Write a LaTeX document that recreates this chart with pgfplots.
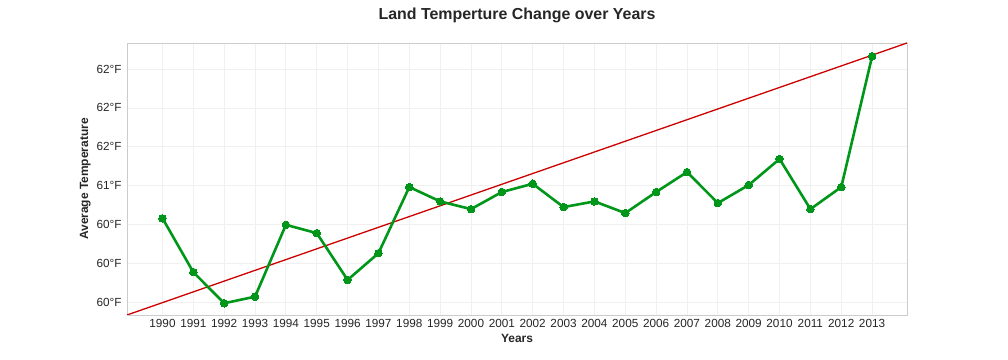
\documentclass[border=0pt]{standalone}
\usepackage{pgfplots}
\pgfplotsset{compat=1.18}
\usepackage{fontspec}
\setmainfont{Liberation Sans}
\definecolor{lgreen}{RGB}{0,150,25}
\definecolor{tred}{RGB}{204,0,0}
\definecolor{gridc}{RGB}{240,240,240}
\definecolor{framec}{RGB}{204,204,204}
\definecolor{txt}{RGB}{38,38,38}
\pgfplotstableread{
year temp
1990 60.580
1991 59.887
1992 59.487
1993 59.572
1994 60.496
1995 60.389
1996 59.787
1997 60.131
1998 60.982
1999 60.797
2000 60.698
2001 60.918
2002 61.024
2003 60.724
2004 60.797
2005 60.647
2006 60.918
2007 61.175
2008 60.776
2009 61.008
2010 61.343
2011 60.698
2012 60.982
2013 62.665
}\temps
\pgfplotstableread{
year temp
1988.85 59.336
2014.13 62.835
}\trend
\begin{document}
\begin{tikzpicture}
\useasboundingbox (-127bp,-45bp) rectangle (881bp,315bp);
\begin{axis}[
  at={(0,0)}, anchor=south west,
  scale only axis, width=780bp, height=272bp,
  xmin=1988.85, xmax=2014.13, ymin=59.336, ymax=62.835,
  xtick={1990,...,2013},
  xticklabels={1990,1991,1992,1993,1994,1995,1996,1997,1998,1999,2000,2001,2002,2003,2004,2005,2006,2007,2008,2009,2010,2011,2012,2013},
  ytick={59.5,60,60.5,61,61.5,62,62.5},
  yticklabels={60°F,60°F,60°F,61°F,62°F,62°F,62°F},
  major tick length=0pt,
  grid=major,
  major grid style={gridc, line width=0.8bp},
  axis line style={framec, line width=0.8bp},
  ticklabel style={font=\fontsize{11.8}{13}\selectfont, text=txt},
  xticklabel style={yshift=-1bp},
  yticklabel style={xshift=-2bp},
  xlabel={Years}, ylabel={Average Temperature},
  label style={font=\fontsize{12}{14}\selectfont\bfseries, text=txt},
  xlabel style={yshift=0bp},
  ylabel style={yshift=-1bp},
  title={Land Temperture Change over Years},
  title style={font=\fontsize{16}{18}\selectfont\bfseries, text=txt, yshift=11bp},
  clip=true,
]
\addplot[tred, line width=1.3bp] table[x=year, y=temp] {\trend};
\addplot[lgreen, line width=2.6bp, mark=*, mark size=3.8bp, mark options={fill=lgreen, draw=lgreen, line width=0pt}] table[x=year, y=temp] {\temps};
\end{axis}
\end{tikzpicture}
\end{document}
